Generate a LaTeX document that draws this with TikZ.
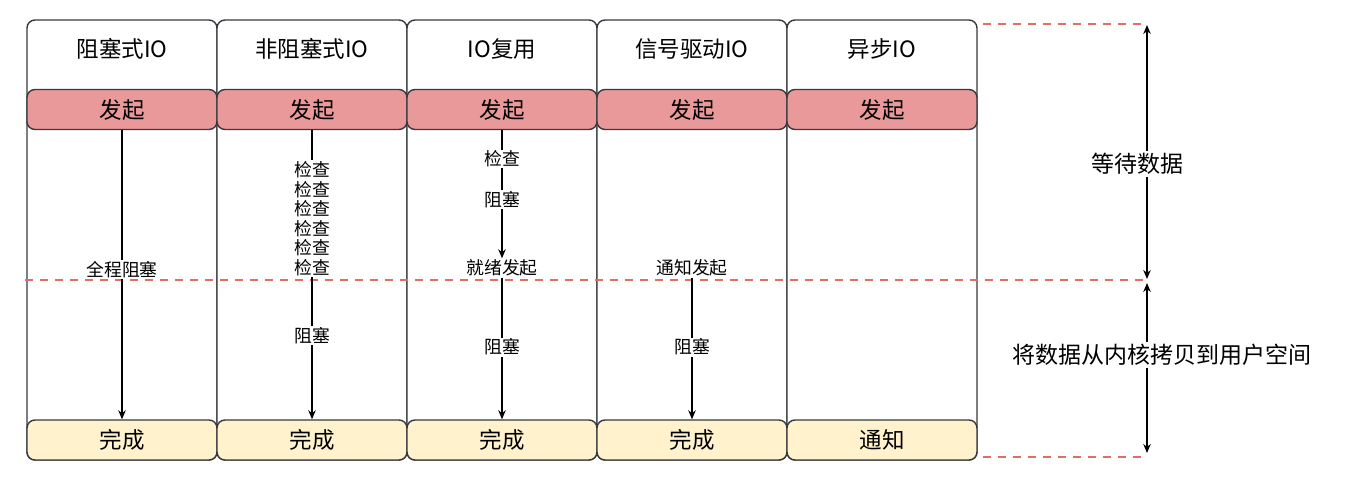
\documentclass[tikz,border=0pt]{standalone}
\usepackage{fontspec}
\newfontfamily\cjk{Noto Sans CJK SC}
\usetikzlibrary{arrows.meta}
\definecolor{edge}{HTML}{36393D}
\definecolor{startfill}{HTML}{EA999B}
\definecolor{endfill}{HTML}{FFF2CC}
\definecolor{guide}{HTML}{DD7060}
\begin{document}
\begin{tikzpicture}[x=1pt,y=-1pt,
  lane/.style={draw=edge, line width=1.4pt, rounded corners=8pt, fill=white,
    minimum width=190pt, minimum height=440pt, inner sep=0pt},
  bar/.style={draw=edge, line width=1.4pt, rounded corners=8pt,
    minimum width=190pt, minimum height=40pt, inner sep=0pt,
    font=\cjk\fontsize{22.5}{26}\selectfont},
  title/.style={font=\cjk\fontsize{22.5}{26}\selectfont, inner sep=0pt},
  lbl/.style={fill=white, inner sep=1.2pt, font=\cjk\fontsize{17.8}{19.5}\selectfont},
  biglbl/.style={fill=white, inner sep=2pt, font=\cjk\fontsize{23}{27}\selectfont},
  conn/.style={-{Stealth[length=9pt,width=7.5pt]}, line width=1.3pt},
  span/.style={{Stealth[length=9pt,width=7.5pt]}-{Stealth[length=9pt,width=7.5pt]}, line width=1.3pt},
  guide/.style={draw=guide, line width=2.4pt, dash pattern=on 8pt off 7pt}]
\useasboundingbox (0,0) rectangle (1347,481);

% lanes
\foreach \i in {1,...,5}{
  \node[lane] (lane\i) at ({122+190*(\i-1)},240) {};
}
% titles and start / end bars
\foreach \i/\t/\b in {1/阻塞式IO/完成, 2/非阻塞式IO/完成, 3/IO复用/完成, 4/信号驱动IO/完成, 5/异步IO/通知}{
  \node[title] (t\i) at ({122+190*(\i-1)},49) {\t};
  \node[bar, fill=startfill] (s\i) at ({122+190*(\i-1)},109.5) {发起};
  \node[bar, fill=endfill] (e\i) at ({122+190*(\i-1)},440) {\b};
}

% guide lines
\coordinate (gT) at (983,24);
\coordinate (gL) at (25,280);
\coordinate (gB) at (983,457);
\coordinate (wT) at (1147,24);
\coordinate (wM) at (1147,280);
\coordinate (wB) at (1147,457);
\draw[guide] (gT) -- (wT);
\draw[guide] (gL) -- (wM);
\draw[guide] (gB) -- (wB);

% blocking IO
\draw[conn] (s1.south) -- node[lbl, pos=0.483] (l1) {全程阻塞} (e1.north);

% non-blocking IO
\node[lbl, align=center] (chk2) at (312,218.5) {检查\\检查\\检查\\检查\\检查\\检查};
\draw[line width=1.3pt] (s2.south) -- (chk2.north);
\draw[conn] (chk2.south) -- node[lbl, pos=0.41] (l2) {阻塞} (e2.north);

% IO multiplexing
\node[lbl] (rdy3) at (502,268) {就绪发起};
\draw[conn] (s3.south) -- node[lbl, pos=0.225] (c3) {检查}
  node[lbl, pos=0.54] (b3) {阻塞} (rdy3.north);
\draw[conn] (rdy3.south) -- node[lbl, pos=0.49] (l3) {阻塞} (e3.north);

% signal-driven IO
\node[lbl] (rdy4) at (692,268) {通知发起};
\draw[conn] (rdy4.south) -- node[lbl, pos=0.49] (l4) {阻塞} (e4.north);

% phase spans
\coordinate (a1) at (1147,25);
\coordinate (a2) at (1147,279);
\coordinate (b1) at (1147,283);
\coordinate (b2) at (1147,453);
\draw[span] (a1) -- (a2);
\draw[span] (b1) -- (b2);
\node[biglbl] (wait) at (1137,164) {等待数据};
\node[biglbl] (copy) at (1162,355) {将数据从内核拷贝到用户空间};
\end{tikzpicture}
\end{document}
